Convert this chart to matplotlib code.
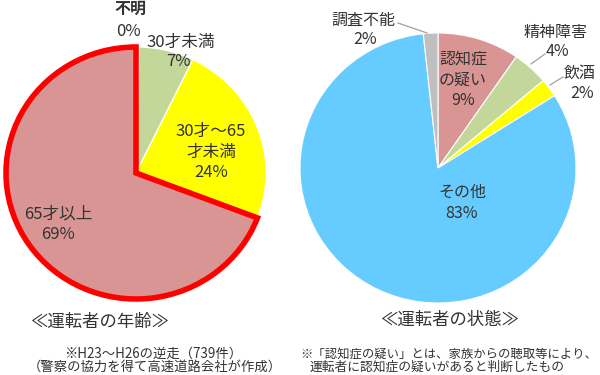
import matplotlib
matplotlib.use("Agg")
import matplotlib.pyplot as plt
from matplotlib.lines import Line2D

plt.rcParams['font.family'] = ['Noto Sans CJK JP', 'DejaVu Sans']

W, H = 600, 375

# 運転者の年齢 (clockwise from 12 o'clock)
age_names = ["不明", "30才未満", "30才～65\n才未満", "65才以上"]
age_values = [0.4, 6.8, 23.6, 69.2]
age_pct = ["0%", "7%", "24%", "69%"]
age_colors = ["#7f7f7f", "#c4d79b", "#ffff00", "#d99594"]

# 運転者の状態
state_names = ["認知症\nの疑い", "精神障害", "飲酒", "その他", "調査不能"]
state_values = [9.6, 4.2, 2.2, 82.3, 1.7]
state_pct = ["9%", "4%", "2%", "83%", "2%"]
state_colors = ["#d99594", "#c4d79b", "#ffff00", "#66ccff", "#bfbfbf"]

TXT = "#333333"


def fx(x):
    return x / W


def fy(y):
    return 1 - y / H


def pie_axes(fig, cx, cy, rx, ry):
    ax = fig.add_axes([fx(cx - rx), fy(cy + ry), 2 * rx / W, 2 * ry / H])
    return ax


def draw_pie(ax, values, colors):
    wedges, _ = ax.pie(values, colors=colors, startangle=90, counterclock=False,
                       radius=1, wedgeprops=dict(edgecolor="white", linewidth=0.8))
    ax.set_aspect("auto")
    ax.set_xlim(-1, 1)
    ax.set_ylim(-1, 1)
    ax.axis("off")
    for w in wedges:
        w.set_clip_on(False)
    return wedges


def label(x, y, s, size=12, weight="normal"):
    fig.text(fx(x), fy(y), s, ha="center", va="center", fontsize=size,
             color=TXT, weight=weight, linespacing=1.3)


def leader(x1, y1, x2, y2):
    fig.add_artist(Line2D([fx(x1), fx(x2)], [fy(y1), fy(y2)],
                          transform=fig.transFigure, color="#a0a0a0", lw=0.9))


fig = plt.figure(figsize=(6, 3.75), dpi=100)

# left pie
ax1 = pie_axes(fig, 136, 173, 130, 126)
w1 = draw_pie(ax1, age_values, age_colors)
w1[3].set_edgecolor("#ff0000")
w1[3].set_linewidth(4)
w1[3].set_zorder(5)

label(130, 9, age_names[0], size=11.5, weight="bold")
label(128, 32, age_pct[0])
label(181, 42, age_names[1])
label(178, 62, age_pct[1])
label(211, 152, age_names[2] + "\n" + age_pct[2])
label(58, 224, age_names[3] + "\n" + age_pct[3])

# right pie
ax2 = pie_axes(fig, 438, 168, 138, 135)
draw_pie(ax2, state_values, state_colors)

label(463, 80, state_names[0] + "\n" + state_pct[0], size=11.5)
label(556, 32, state_names[1], size=11.5)
label(557, 52, state_pct[1], size=11.5)
label(580, 73, state_names[2], size=11.5)
label(582, 93, state_pct[2], size=11.5)
label(462, 203, state_names[3] + "\n" + state_pct[3], size=11.5)
label(363, 20, state_names[4], size=11.5)
label(365, 40, state_pct[4], size=11.5)

leader(398, 23, 427, 33)
leader(545, 54, 531, 64)
leader(563, 77, 550, 85)

# captions
label(100, 322, "≪運転者の年齢≫", size=12.5)
label(450, 320, "≪運転者の状態≫", size=12.5)
label(153, 354, "※H23～H26の逆走（739件）", size=9.6)
label(155, 367, "（警察の協力を得て高速道路会社が作成）", size=9.6)
label(449, 354, "※「認知症の疑い」とは、家族からの聴取等により、", size=8.9)
label(437, 367, "運転者に認知症の疑いがあると判断したもの", size=9.2)

fig.savefig("out.png", dpi=100)
